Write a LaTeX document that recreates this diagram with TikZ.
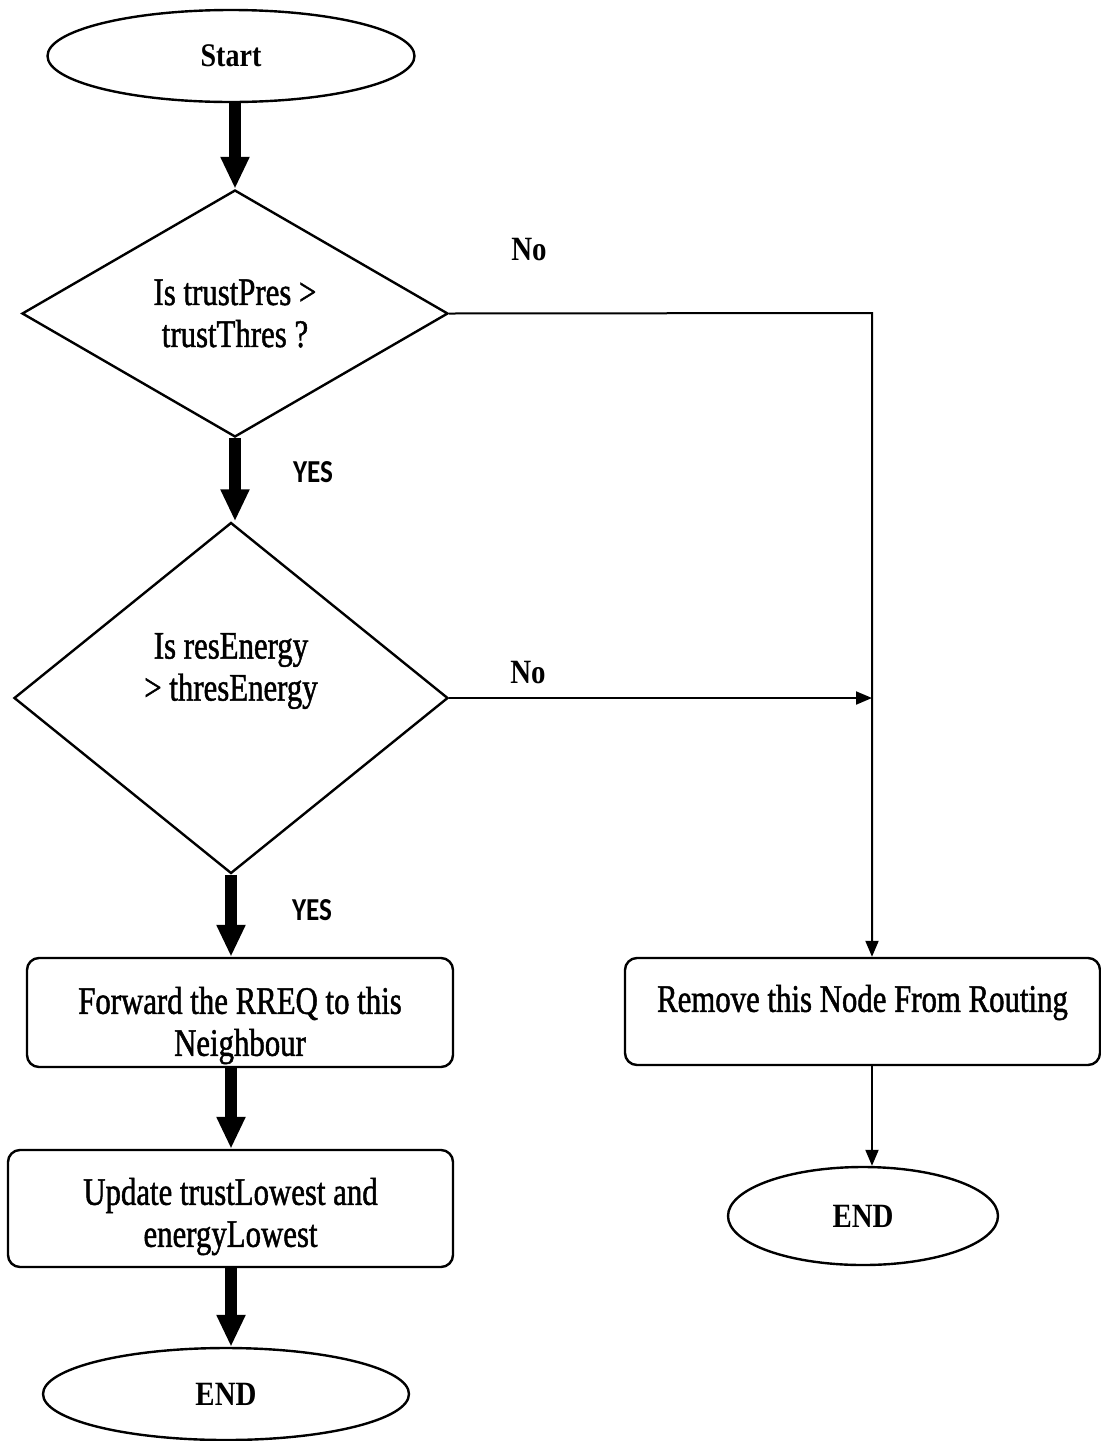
\documentclass[tikz,border=0pt]{standalone}
\usepackage{fontspec}
\setmainfont{Liberation Serif}[FakeStretch=0.85]
\newfontfamily\bodyfont{Liberation Serif}[FakeStretch=0.79, FakeBold=1.2]
\newfontfamily\yesfont{Carlito}[FakeStretch=0.85]
\usetikzlibrary{shapes.geometric,arrows.meta}
\begin{document}
\begin{tikzpicture}[x=0.5pt,y=-0.5pt,
  body/.style={font=\bodyfont\fontsize{19.5pt}{21pt}\selectfont, align=center},
  term/.style={ellipse, draw, line width=1.2pt, inner sep=0pt, font=\bfseries\fontsize{17pt}{20pt}\selectfont},
  decision/.style={diamond, draw, line width=1.2pt, inner sep=0pt, body},
  proc/.style={rectangle, rounded corners=6pt, draw, line width=1.2pt, inner sep=0pt, body},
  bigarrow/.style={line width=6pt, -{Triangle[width=13.5pt,length=16pt]}},
  thinarrow/.style={line width=1pt, -{Triangle[width=6.5pt,length=8pt]}},
  nolbl/.style={font=\bfseries\fontsize{17pt}{20pt}\selectfont},
  yeslbl/.style={font=\yesfont\bfseries\fontsize{16pt}{18pt}\selectfont}]
\useasboundingbox (0,0) rectangle (1101,1441);
\fill[white] (0,0) rectangle (1101,1441);

\node[term, font=\bfseries\fontsize{16.5pt}{19pt}\selectfont, minimum width=183.5pt, minimum height=46pt] (start) at (231,56) {Start};
\node[decision, minimum width=213pt, minimum height=123.5pt] (d1) at (235,313.5) {Is trustPres >\\trustThres ?};
\node[decision, minimum width=217pt, minimum height=175.5pt,
      label={[body, yshift=13.5pt]center:Is resEnergy\\> thresEnergy}] (d2) at (231,698) {};
\node[proc, minimum width=213pt, minimum height=54.5pt,
      label={[body, yshift=-6.5pt]center:Forward the RREQ to this\\Neighbour}] (fwd) at (240,1012.5) {};
\node[proc, minimum width=222.5pt, minimum height=58.5pt,
      label={[body, yshift=-4pt]center:Update trustLowest and\\energyLowest}] (upd) at (230.5,1208.5) {};
\node[term, minimum width=183pt, minimum height=46pt] (end1) at (226,1394) {END};
\node[proc, minimum width=237.5pt, minimum height=53.5pt,
      label={[body, yshift=4.5pt]center:Remove this Node From Routing}] (rem) at (862.5,1011.5) {};
\node[term, minimum width=135pt, minimum height=49pt] (end2) at (863,1216) {END};

\node[nolbl] (no1) at (529,250) {No};
\node[nolbl] (no2) at (528,673) {No};
\node[yeslbl] (yes1) at (313,472) {YES};
\node[yeslbl] (yes2) at (312,910) {YES};

\coordinate (c1) at (872,313);
\coordinate (c2) at (c1 |- d2.east);

\draw[bigarrow] (start.south -| d1.north) -- (d1.north);
\draw[bigarrow] (d1.south) -- (d1.south |- d2.north);
\draw[bigarrow] (d2.south) -- (d2.south |- fwd.north);
\draw[bigarrow] (fwd.south -| d2.south) -- (upd.north -| d2.south);
\draw[bigarrow] (upd.south -| d2.south) -- (end1.north -| d2.south);

\draw[thinarrow] (d1.east) -- (c1) -- (c1 |- rem.north);
\draw[thinarrow] (d2.east) -- (c2);
\draw[thinarrow] (rem.south -| c1) -- (end2.north -| c1);
\end{tikzpicture}
\end{document}
